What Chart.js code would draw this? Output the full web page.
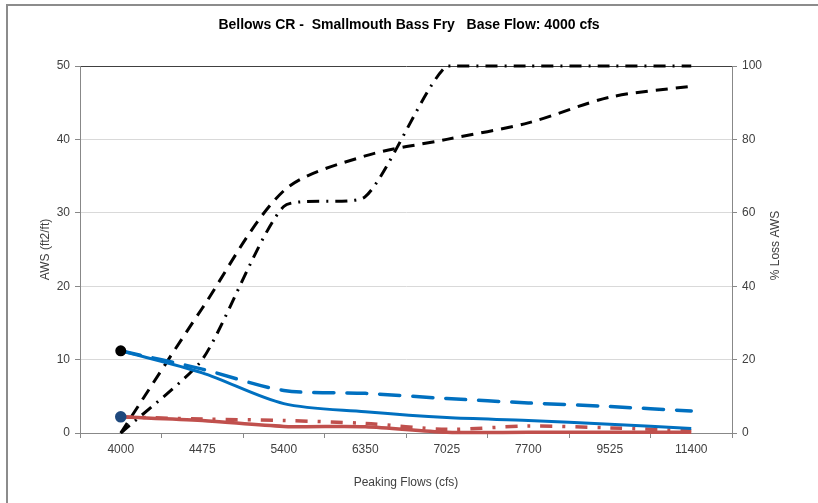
<!DOCTYPE html>
<html>
<head>
<meta charset="utf-8">
<script src="https://cdn.jsdelivr.net/npm/chart.js@4/dist/chart.umd.min.js"></script>
<style>
  html, body { margin: 0; padding: 0; background: #fff; }
  #wrap { position: relative; width: 818px; height: 503px; }
  #frame { position: absolute; left: 6px; top: 4px; right: 0; bottom: 0;
           border-left: 2px solid #8c8c8c; border-top: 2px solid #8c8c8c; pointer-events: none; }
  canvas { position: absolute; left: 0; top: 0; }
</style>
</head>
<body>
<div id="wrap">
  <canvas id="chart" width="818" height="503"></canvas>
  <div id="frame"></div>
</div>
<script>
// ---------------------------------------------------------------------------
// Data
// ---------------------------------------------------------------------------
const peakingFlows = ['4000', '4475', '5400', '6350', '7025', '7700', '9525', '11400'];

// AWS (ft2/ft), left axis
const awsBlueSolid = [11.2, 8.2, 4.0, 2.9, 2.1, 1.7, 1.2, 0.6];
const awsBlueDash  = [11.2, 8.7, 5.8, 5.4, 4.7, 4.1, 3.6, 3.0];
const awsRedSolid  = [2.2, 1.7, 0.9, 0.85, 0.1, 0.1, 0.1, 0.1];
const awsRedDashDot = [2.2, 1.9, 1.7, 1.3, 0.5, 0.95, 0.7, 0.3];

// % Loss AWS, right axis
const lossDash    = [0, 34, 66, 75.5, 80, 84.5, 91.5, 94.5];
const lossDashDot = [0, 20, 61.7, 64.4, 100, 100, 100, 100];

const awsTicks  = [0, 10, 20, 30, 40, 50];
const lossTicks = [0, 20, 40, 60, 80, 100];

const FONT = 'Liberation Sans, Arial, sans-serif';
const BLUE = '#0070C0';
const RED = '#C0504D';

const firstPointOnly = r => ctx => (ctx.dataIndex === 0 ? r : 0);

// right axis title reads bottom-to-top, so draw it by hand
const rightTitlePlugin = {
    id: 'rightTitle',
    afterDraw(chart) {
        const { ctx, chartArea } = chart;
        ctx.save();
        ctx.translate(776, (chartArea.top + chartArea.bottom) / 2 - 4);
        ctx.rotate(-Math.PI / 2);
        ctx.font = '12px ' + FONT;
        ctx.fillStyle = '#404040';
        ctx.textAlign = 'center';
        ctx.textBaseline = 'middle';
        ctx.fillText('% Loss AWS', 0, 0);
        ctx.restore();
    }
};

new Chart(document.getElementById('chart'), {
    type: 'line',
    data: {
        labels: peakingFlows,
        datasets: [
            {
                data: awsBlueSolid, yAxisID: 'y', borderColor: BLUE, borderWidth: 3,
                pointRadius: firstPointOnly(4), pointBackgroundColor: '#000', pointBorderColor: '#000',
                tension: 0.3, clip: 6
            },
            {
                data: awsRedSolid, yAxisID: 'y', borderColor: RED, borderWidth: 3.5,
                pointRadius: firstPointOnly(4), pointBackgroundColor: '#1F497D', pointBorderColor: '#1F497D',
                tension: 0.3, clip: 6
            },
            {
                data: awsBlueDash, yAxisID: 'y', borderColor: BLUE, borderWidth: 3.5,
                borderDash: [20, 13], borderCapStyle: 'round', pointRadius: 0,
                tension: 0.3, clip: 6
            },
            {
                data: awsRedDashDot, yAxisID: 'y', borderColor: RED, borderWidth: 3.5,
                borderDash: [12, 10, 3, 10], pointRadius: 0,
                tension: 0.3, clip: 6
            },
            {
                data: lossDash, yAxisID: 'y1', borderColor: '#000', borderWidth: 3,
                borderDash: [12, 8], pointRadius: 0,
                tension: 0.3, clip: 6
            },
            {
                data: lossDashDot, yAxisID: 'y1', borderColor: '#000', borderWidth: 3,
                borderDash: [12, 7, 2, 7], pointRadius: 0,
                tension: 0.2, clip: 6
            }
        ]
    },
    options: {
        responsive: false,
        animation: false,
        layout: { padding: 0 },
        plugins: {
            legend: { display: false },
            tooltip: { enabled: false },
            title: {
                display: true,
                text: 'Bellows CR -  Smallmouth Bass Fry   Base Flow: 4000 cfs',
                color: '#000',
                font: { family: FONT, size: 14, weight: 'bold', lineHeight: 1.2 },
                padding: { top: 17, bottom: 32.2 }
            }
        },
        scales: {
            x: {
                offset: true,
                grid: { offset: true, drawOnChartArea: false, tickLength: 5, color: '#888' },
                border: { color: '#888' },
                ticks: { color: '#404040', font: { family: FONT, size: 12 }, padding: 4, maxRotation: 0 },
                title: {
                    display: true, text: 'Peaking Flows (cfs)', color: '#404040',
                    font: { family: FONT, size: 12 }, padding: { bottom: 13 }
                },
                afterFit(scale) { scale.height = 70; }
            },
            y: {
                position: 'left',
                min: 0, max: 50,
                afterBuildTicks(scale) { scale.ticks = awsTicks.map(v => ({ value: v })); },
                grid: {
                    color: ctx => (ctx.tick && ctx.tick.value === 50 ? '#404040' : '#d9d9d9'),
                    tickColor: '#888', tickLength: 5
                },
                border: { color: '#888' },
                ticks: { color: '#404040', font: { family: FONT, size: 12 }, padding: 5 },
                title: {
                    display: true, text: 'AWS (ft2/ft)', color: '#404040',
                    font: { family: FONT, size: 12 }, padding: { top: 38 }
                },
                afterFit(scale) { scale.width = 80; }
            },
            y1: {
                position: 'right',
                min: 0, max: 100,
                afterBuildTicks(scale) { scale.ticks = lossTicks.map(v => ({ value: v })); },
                grid: { drawOnChartArea: false, tickColor: '#888', tickLength: 5 },
                border: { color: '#888' },
                ticks: { color: '#404040', font: { family: FONT, size: 12 }, padding: 5 },
                afterFit(scale) { scale.width = 86; }
            }
        }
    },
    plugins: [rightTitlePlugin]
});
</script>
</body>
</html>
